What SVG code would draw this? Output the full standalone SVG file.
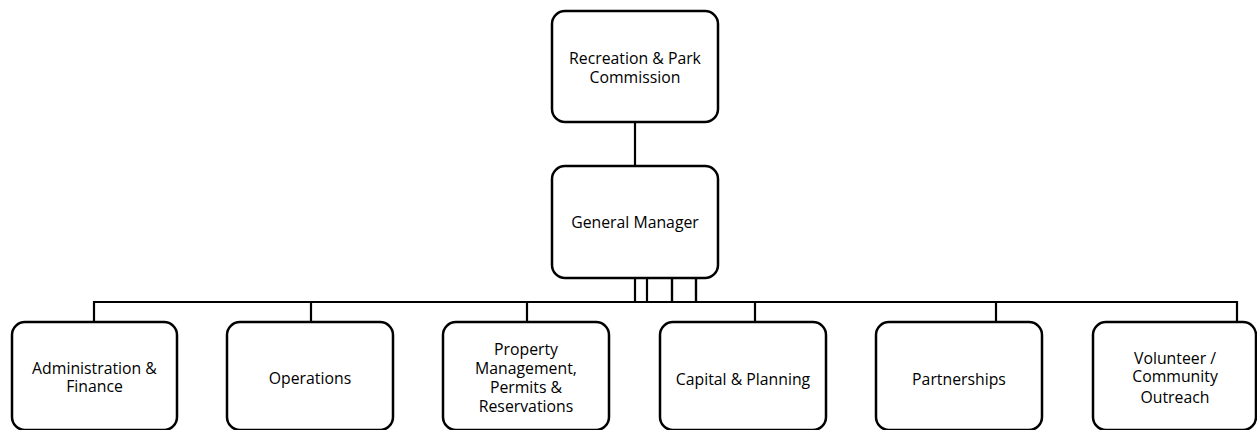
<svg xmlns="http://www.w3.org/2000/svg" width="1257" height="430" viewBox="0 0 1257 430">
<style>
.box{fill:#fff;stroke:#000;stroke-width:2.5}
.lbl{font-family:"Open Sans","Noto Sans",sans-serif;font-size:15.8px;fill:#000;text-anchor:middle}
.con{fill:none;stroke:#000;stroke-width:2.2}
</style>
<rect width="1257" height="430" fill="#fff"/>
<g id="connectors">
<path class="con" d="M635 122V166"/>
<path class="con" d="M635 278V302H94V322"/>
<path class="con" d="M647 278V302H311V322"/>
<path class="con" d="M672 278V302H527V322"/>
<path class="con" d="M672 278V302H755V322"/>
<path class="con" d="M696 278V302H996V322"/>
<path class="con" d="M696 278V302H1237V322"/>
</g>
<g id="commission">
<rect class="box" x="552" y="11" width="166" height="111" rx="13"/>
<text class="lbl" x="635" y="64">Recreation &amp; Park</text>
<text class="lbl" x="635" y="83">Commission</text>
</g>
<g id="general-manager">
<rect class="box" x="552" y="166" width="166" height="112" rx="13"/>
<text class="lbl" x="635" y="228">General Manager</text>
</g>
<g id="admin-finance">
<rect class="box" x="12" y="322" width="165" height="108" rx="13"/>
<text class="lbl" x="94.5" y="374">Administration &amp;</text>
<text class="lbl" x="94.5" y="392">Finance</text>
</g>
<g id="operations">
<rect class="box" x="227" y="322" width="166" height="108" rx="13"/>
<text class="lbl" x="310" y="384">Operations</text>
</g>
<g id="property">
<rect class="box" x="443" y="322" width="166" height="108" rx="13"/>
<text class="lbl" x="526" y="355">Property</text>
<text class="lbl" x="526" y="374">Management,</text>
<text class="lbl" x="526" y="393">Permits &amp;</text>
<text class="lbl" x="526" y="412">Reservations</text>
</g>
<g id="capital-planning">
<rect class="box" x="660" y="322" width="166" height="108" rx="13"/>
<text class="lbl" x="743" y="385">Capital &amp; Planning</text>
</g>
<g id="partnerships">
<rect class="box" x="876" y="322" width="166" height="108" rx="13"/>
<text class="lbl" x="959" y="385">Partnerships</text>
</g>
<g id="volunteer">
<rect class="box" x="1093" y="322" width="163" height="108" rx="13"/>
<text class="lbl" x="1175" y="364">Volunteer /</text>
<text class="lbl" x="1175" y="382">Community</text>
<text class="lbl" x="1175" y="403">Outreach</text>
</g>
</svg>
